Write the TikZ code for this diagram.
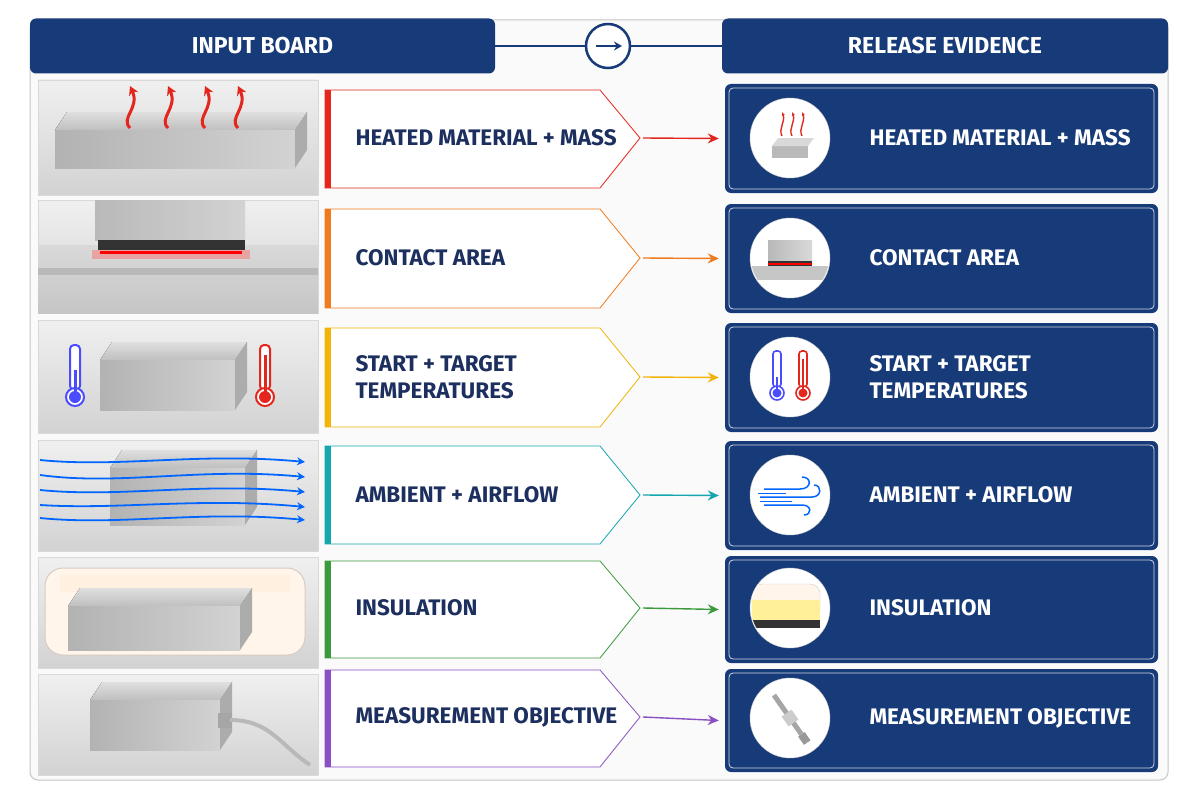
\documentclass[tikz,border=0pt]{standalone}
\usepackage{fontspec}
\setmainfont{Fira Sans}
\usetikzlibrary{arrows.meta,calc}
\definecolor{navy}{HTML}{173A78}
\definecolor{cA}{HTML}{E3261E}
\definecolor{cB}{HTML}{F07A1E}
\definecolor{cC}{HTML}{F2B40A}
\definecolor{cD}{HTML}{14A7AE}
\definecolor{cE}{HTML}{3A9A3C}
\definecolor{cF}{HTML}{8A4FC2}
\definecolor{lbl}{HTML}{1C2F5E}
\tikzset{
  hdr/.style={fill=navy,rounded corners=6pt},
  hdrtxt/.style={text=white,font=\fontsize{23}{23}\selectfont\bfseries},
  lbltxt/.style={text=lbl,font=\fontsize{22.5}{27}\selectfont\bfseries,anchor=west,align=left},
  cardtxt/.style={text=white,font=\fontsize{22.5}{27}\selectfont\bfseries,anchor=west,align=left},
  card/.style={fill=navy,rounded corners=6pt},
  photo/.style={top color=gray!12,bottom color=gray!35,draw=gray!30},
  conn/.style={-{Stealth[length=11pt,width=10pt]},line width=1.4pt},
  icon/.style={circle,fill=white,draw=gray!40,minimum size=80pt,inner sep=0pt},
}
\newcommand{\metblock}[4]{%
  \fill[top color=gray!25,bottom color=gray!50] (#1+12,#2-18) -- (#3+12,#2-18) -- (#3,#2) -- (#1,#2) -- cycle;
  \fill[left color=gray!60,right color=gray!35] (#1,#2) rectangle (#3,#4);
  \fill[gray!65] (#3,#2) -- (#3+12,#2-18) -- (#3+12,#4-18) -- (#3,#4) -- cycle;
}
\newcommand{\rowlabel}[6]{%
  \draw[#3,line width=0.8pt,fill=white] (325,#4) -- (600,#4) -- (640,#2) -- (600,#5) -- (325,#5) -- cycle;
  \fill[#3] (325,#4) rectangle (331,#5);
  \node[lbltxt] at (352,#2) {#6};
  \coordinate (t#1) at (643,#2);
}
\newcommand{\rowcard}[6]{% name cy top bot text color
  \node[card,minimum width=433pt,minimum height={#4-#3},inner sep=0pt] (c#1) at (941.5,{(#3+#4)/2}) {};
  \draw[white!80!navy,line width=0.8pt,rounded corners=4pt] (729,#3+4) rectangle (1154,#4-4);
  \node[icon] (i#1) at (790,#2) {};
  \node[cardtxt] at (866,#2) {#5};
  \draw[conn,#6] (t#1) -- ([xshift=-6pt]c#1.west);
}
\begin{document}
\begin{tikzpicture}[x=1pt,y=-1pt]
\useasboundingbox (0,0) rectangle (1200,800);
\fill[white] (0,0) rectangle (1200,800);
\draw[gray!45,line width=1pt,rounded corners=8pt,fill=gray!4] (30,20) rectangle (1168,780);
\node[hdr,minimum width=465pt,minimum height=55pt] (h1) at (262.5,46) {};
\node[hdrtxt] at (h1) {INPUT BOARD};
\node[hdr,minimum width=446pt,minimum height=55pt] (h2) at (945,46) {};
\node[hdrtxt] at (h2) {RELEASE EVIDENCE};
\node[circle,draw=navy,line width=2.5pt,fill=white,minimum size=44pt] (hc) at (608,46) {};
\draw[navy,line width=2pt] (h1.east) -- (hc.west);
\draw[navy,line width=2pt] (hc.east) -- (h2.west);
\draw[navy,line width=2.2pt,-{Stealth[length=8pt,width=9pt]}] (596,46) -- (622,46);
\foreach \a/\b in {80/195,200/313,320/433,440/551,557/668,674/775}{
  \fill[photo] (38,\a) rectangle (318,\b);
}
% row1
\metblock{55}{130}{295}{168}
\foreach \x in {130,168,205,238}{
  \draw[cA,line width=3pt,-{Stealth[length=9pt,width=10pt]}] (\x,128) .. controls (\x-10,118) and (\x+10,108) .. (\x,86);
}
% row2
\fill[top color=gray!30,bottom color=gray!45] (38,245) rectangle (318,313);
\fill[gray!55] (38,268) rectangle (318,275);
\fill[left color=gray!55,right color=gray!35] (95,200) rectangle (245,240);
\fill[black!80] (98,240) rectangle (245,250);
\fill[red!60,opacity=0.45] (92,250) rectangle (250,259);
\draw[red,line width=3pt] (100,252) -- (242,252);
% row3
\metblock{100}{360}{235}{410}
\draw[blue!70,line width=2pt,fill=white,rounded corners=4pt] (70,345) rectangle (80,390);
\draw[blue!70,line width=2pt,fill=white] (75,397) circle (9);
\fill[blue!70] (75,397) circle (6); \fill[blue!70] (73.5,370) rectangle (76.5,395);
\draw[cA,line width=2pt,fill=white,rounded corners=4pt] (260,345) rectangle (270,390);
\draw[cA,line width=2pt,fill=white] (265,397) circle (9);
\fill[cA] (265,397) circle (6); \fill[cA] (263.5,355) rectangle (266.5,395);
% row4
\metblock{110}{468}{245}{525}
\foreach \y/\d in {460/0,475/3,490/0,505/-3,518/0}{
  \draw[blue!60!cyan,line width=1.8pt,-{Stealth[length=8pt,width=8pt]}] (40,\y) .. controls (120,\y+8+\d) and (200,\y-8) .. (305,\y+2);
}
% row5
\fill[orange!8!white,draw=orange!20!gray!40,line width=1pt,rounded corners=18pt] (45,568) rectangle (305,655);
\fill[orange!12!white] (60,575) rectangle (290,592);
\metblock{68}{606}{240}{650}
% row6
\metblock{90}{700}{220}{750}
\fill[gray!70] (218,713) rectangle (232,728);
\draw[gray!55,line width=4pt] (230,720) .. controls (270,720) and (280,745) .. (310,765);
\rowlabel{1}{138}{cA}{90}{188}{HEATED MATERIAL + MASS}
\rowlabel{2}{258}{cB}{209}{308}{CONTACT AREA}
\rowlabel{3}{377}{cC}{328}{427}{START + TARGET\\TEMPERATURES}
\rowlabel{4}{495}{cD}{446}{544}{AMBIENT + AIRFLOW}
\rowlabel{5}{608}{cE}{561}{658}{INSULATION}
\rowlabel{6}{717}{cF}{670}{767}{MEASUREMENT OBJECTIVE}
\rowcard{1}{138}{84}{193}{HEATED MATERIAL + MASS}{cA}
\rowcard{2}{258}{204}{313}{CONTACT AREA}{cB}
\rowcard{3}{377}{323}{432}{START + TARGET\\TEMPERATURES}{cC}
\rowcard{4}{495}{441}{550}{AMBIENT + AIRFLOW}{cD}
\rowcard{5}{608}{556}{663}{INSULATION}{cE}
\rowcard{6}{718}{669}{772}{MEASUREMENT OBJECTIVE}{cF}
\begin{scope}[shift={(790,138)}]
  \fill[gray!55] (-18,8) rectangle (18,20); \fill[gray!30] (-18,8) -- (-12,0) -- (24,0) -- (18,8) -- cycle;
  \foreach \x in {-8,2,12}{\draw[cA,line width=1.4pt,-{Stealth[length=4pt]}] (\x,-2) .. controls (\x-4,-10) and (\x+4,-16) .. (\x,-26);}
\end{scope}
\begin{scope}[shift={(790,258)}]
  \clip (0,0) circle (39);
  \fill[gray!45] (-40,8) rectangle (40,22);
  \fill[black!80] (-22,2) rectangle (22,8); \draw[red,line width=2pt] (-22,6) -- (22,6);
  \fill[left color=gray!55,right color=gray!30] (-22,-18) rectangle (22,2);
\end{scope}
\begin{scope}[shift={(790,377)}]
  \draw[blue!70,line width=1.6pt,fill=white,rounded corners=3pt] (-17,-26) rectangle (-9,10);
  \draw[blue!70,line width=1.6pt,fill=white] (-13,16) circle (7); \fill[blue!70] (-13,16) circle (4.5); \fill[blue!70] (-14,0) rectangle (-12,14);
  \draw[cA,line width=1.6pt,fill=white,rounded corners=3pt] (9,-26) rectangle (17,10);
  \draw[cA,line width=1.6pt,fill=white] (13,16) circle (7); \fill[cA] (13,16) circle (4.5); \fill[cA] (12,-18) rectangle (14,14);
\end{scope}
\begin{scope}[shift={(790,495)}]
  \draw[blue!60!cyan,line width=1.5pt] (-26,-6) -- (10,-6) .. controls (22,-6) and (22,-18) .. (12,-18);
  \draw[blue!60!cyan,line width=1.5pt] (-30,2) -- (22,2) .. controls (32,2) and (32,-10) .. (24,-10);
  \draw[blue!60!cyan,line width=1.5pt] (-26,10) -- (12,10) .. controls (22,10) and (22,20) .. (14,20);
  \draw[blue!60!cyan,line width=1pt] (-32,-2) -- (-4,-2) (-30,6) -- (2,6);
\end{scope}
\begin{scope}[shift={(790,608)}]
  \clip (0,0) circle (39);
  \fill[orange!8!white,draw=gray!40,rounded corners=10pt] (-38,-24) rectangle (30,14);
  \fill[orange!30!yellow!40!white] (-38,-8) rectangle (30,12);
  \fill[black!80] (-38,12) rectangle (30,20);
\end{scope}
\begin{scope}[shift={(790,718)},rotate=-55]
  \fill[gray!70] (-28,-2.5) rectangle (20,2.5);
  \fill[gray!40] (-6,-6) rectangle (6,6);
  \fill[gray!80] (20,-4) rectangle (30,4);
\end{scope}
\end{tikzpicture}
\end{document}
